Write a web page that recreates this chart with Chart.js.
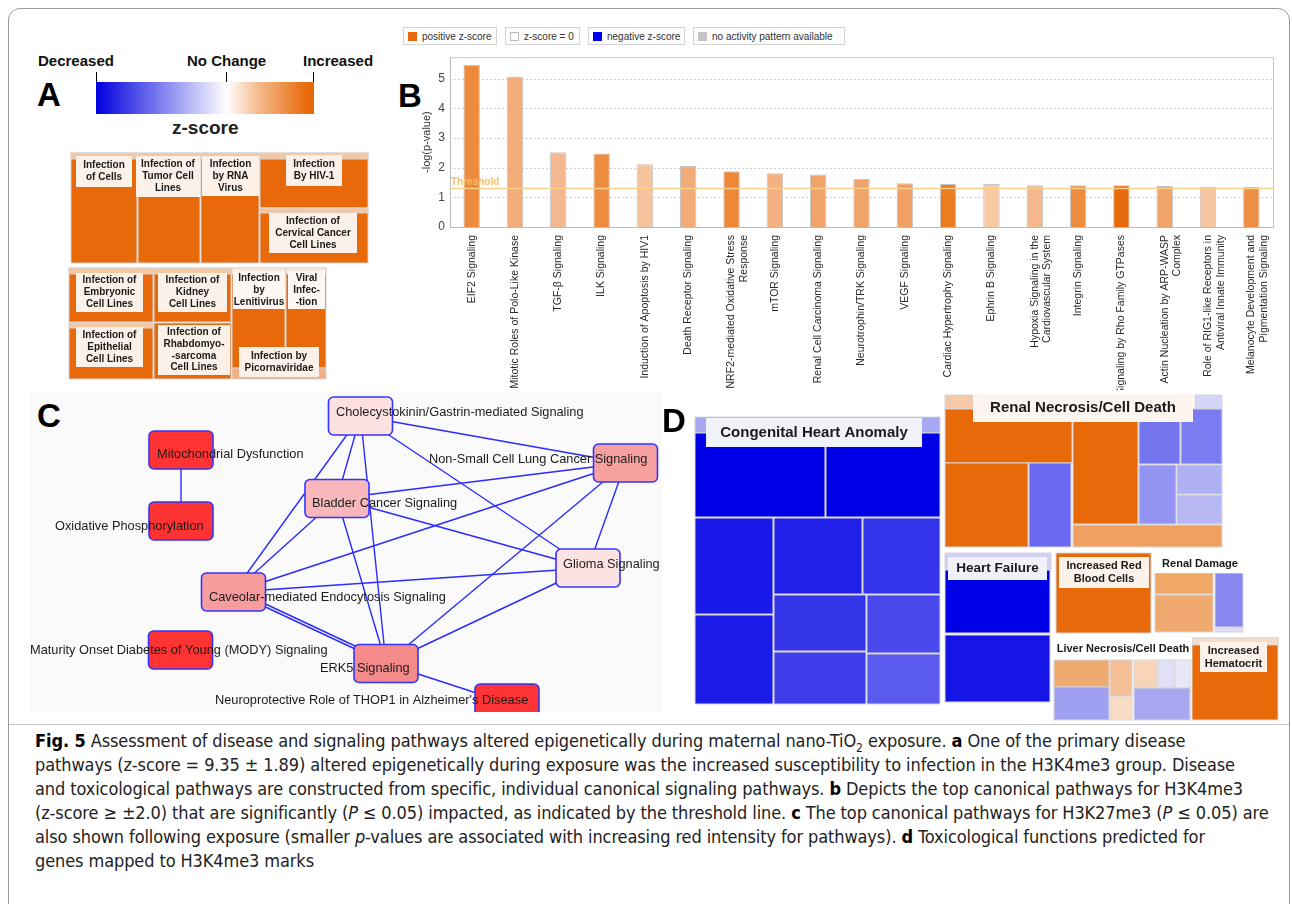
<!DOCTYPE html>
<html lang="en">
<head>
<meta charset="UTF-8">
<title>Fig. 5</title>
<script src="https://cdn.jsdelivr.net/npm/chart.js"></script>
<style>
  body { margin:0; width:1292px; height:904px; background:#fff; position:relative; overflow:hidden;
         font-family:'Liberation Sans', Arial, sans-serif; }
  .abs { position:absolute; }
  .frame { left:8px; top:8px; width:1280px; height:910px; border:1px solid #9a9a9a; border-radius:12px; }
  .sep { left:9px; top:724px; width:1280px; height:1px; background:#c4c4c4; }
  .letter { font-weight:bold; font-size:33px; color:#000; line-height:1; }
  .scale-txt { font-weight:bold; font-size:15px; color:#111; line-height:1; }
  .lg { top:27px; height:18px; border:1px solid #d4d4d4; background:#fdfdfd; font-size:10px; color:#333;
        line-height:18px; white-space:nowrap; padding-left:4px; box-sizing:border-box; }
  .lg i { display:inline-block; width:9px; height:9px; margin-right:5px; vertical-align:-1px; }
  .caption { left:35px; top:729px; font-family:'Liberation Sans Narrow','DejaVu Sans Condensed',sans-serif;
             font-size:18px; line-height:24px; color:#222; white-space:nowrap; letter-spacing:-0.1px; }
  .caption b { color:#000; }
</style>
</head>
<body>
<div class="abs frame"></div>
<div class="abs sep"></div>

<!-- panel A colour scale -->
<div class="abs letter" style="left:37px;top:78px;">A</div>
<div class="abs scale-txt" style="left:38px;top:53px;">Decreased</div>
<div class="abs scale-txt" style="left:187px;top:53px;">No Change</div>
<div class="abs scale-txt" style="left:303px;top:53px;">Increased</div>
<div class="abs" style="left:96px;top:82px;width:218px;height:32px;
     background:linear-gradient(to right,#0000dd 0%,#8080f0 30%,#ffffff 60%,#f4b98a 75%,#e8690a 97%);"></div>
<div class="abs" style="left:96px;top:72px;width:1px;height:10px;background:#000;"></div>
<div class="abs" style="left:226px;top:72px;width:1px;height:10px;background:#000;"></div>
<div class="abs" style="left:313px;top:72px;width:1px;height:10px;background:#000;"></div>
<div class="abs" style="left:172px;top:117px;font-weight:bold;font-size:19px;color:#222;">z-score</div>
<div class="abs" style="left:65px;top:150px;width:305px;height:232px;"><canvas id="treeA"></canvas></div>

<!-- panel B -->
<div class="abs letter" style="left:398px;top:79px;">B</div>
<div class="abs lg" style="left:403px;width:94px;"><i style="background:#e8690a"></i>positive z-score</div>
<div class="abs lg" style="left:505px;width:75px;"><i style="background:#fff;border:1px solid #bbb;width:7px;height:7px"></i>z-score = 0</div>
<div class="abs lg" style="left:588px;width:97px;"><i style="background:#0000ee"></i>negative z-score</div>
<div class="abs lg" style="left:693px;width:152px;"><i style="background:#c4c4c4"></i>no activity pattern available</div>
<div class="abs" style="left:420px;top:45px;width:865px;height:345px;"><canvas id="barB"></canvas></div>

<!-- panel C -->
<div class="abs" style="left:30px;top:392px;width:632px;height:320px;background:#fafafa;"></div>
<div class="abs letter" style="left:37px;top:399px;">C</div>
<div class="abs" style="left:30px;top:390px;width:640px;height:322px;"><canvas id="netC"></canvas></div>

<!-- panel D -->
<div class="abs letter" style="left:662px;top:404px;">D</div>
<div class="abs" style="left:690px;top:388px;width:592px;height:336px;"><canvas id="treeD"></canvas></div>

<div class="abs caption">
<b>Fig. 5</b> Assessment of disease and signaling pathways altered epigenetically during maternal nano-TiO<sub style="font-size:12px;line-height:0">2</sub> exposure. <b>a</b> One of the primary disease<br>
pathways (z-score = 9.35 ± 1.89) altered epigenetically during exposure was the increased susceptibility to infection in the H3K4me3 group. Disease<br>
and toxicological pathways are constructed from specific, individual canonical signaling pathways. <b>b</b> Depicts the top canonical pathways for H3K4me3<br>
(z-score ≥ ±2.0) that are significantly (<i>P</i> ≤ 0.05) impacted, as indicated by the threshold line. <b>c</b> The top canonical pathways for H3K27me3 (<i>P</i> ≤ 0.05) are<br>
also shown following exposure (smaller <i>p</i>-values are associated with increasing red intensity for pathways). <b>d</b> Toxicological functions predicted for<br>
genes mapped to H3K4me3 marks
</div>

<script>
  // ---- B: canonical pathways ----
  var pathways = [
    "EIF2 Signaling", "Mitotic Roles of Polo-Like Kinase", "TGF-β Signaling", "ILK Signaling",
    "Induction of Apoptosis by HIV1", "Death Receptor Signaling", ["NRF2-mediated Oxidative Stress", "Response"],
    "mTOR Signaling", "Renal Cell Carcinoma Signaling", "Neurotrophin/TRK Signaling", "VEGF Signaling",
    "Cardiac Hypertrophy Signaling", "Ephrin B Signaling", ["Hypoxia Signaling in the", "Cardiovascular System"],
    "Integrin Signaling", "Signaling by Rho Family GTPases", ["Actin Nucleation by ARP-WASP", "Complex"],
    ["Role of RIG1-like Receptors in", "Antiviral Innate Immunity"], ["Melanocyte Development and", "Pigmentation Signaling"]
  ];
  var logP = [5.47, 5.08, 2.52, 2.48, 2.12, 2.06, 1.88, 1.81, 1.77, 1.63, 1.48, 1.45, 1.45, 1.41, 1.41, 1.41, 1.38, 1.35, 1.35];
  var zColors = ["#ee8a3c", "#f2ad78", "#f4b890", "#ee8c40", "#f6c49c", "#f2ac78", "#ed8838", "#f3b080", "#f1a46a",
                 "#f1a46a", "#f0a062", "#ec7c22", "#f8caa4", "#f4b88c", "#ee8c40", "#e8690a", "#f0a468", "#f6c49e", "#ee8e44"];
  var yTicks = [0, 1, 2, 3, 4, 5];
  var threshold = 1.3;
  var yMax = 5.73;

  var thresholdLine = {
    id: "thresholdLine",
    beforeDatasetsDraw: function (chart) {
      // dotted horizontal grid
      var ctx = chart.ctx, a = chart.chartArea, s = chart.scales.y;
      ctx.save(); ctx.strokeStyle = "#d0d0d0"; ctx.setLineDash([2, 2]);
      yTicks.slice(1).forEach(function (v) {
        var yy = Math.round(s.getPixelForValue(v)) + 0.5;
        ctx.beginPath(); ctx.moveTo(a.left, yy); ctx.lineTo(a.right, yy); ctx.stroke();
      });
      ctx.restore();
    },
    afterDatasetsDraw: function (chart) {
      var ctx = chart.ctx, a = chart.chartArea;
      var yy = chart.scales.y.getPixelForValue(threshold);
      ctx.save();
      ctx.strokeStyle = "#fbcf8c";
      ctx.lineWidth = 1.5;
      ctx.beginPath(); ctx.moveTo(a.left, yy); ctx.lineTo(a.right, yy); ctx.stroke();
      ctx.fillStyle = "#f8c068";
      ctx.font = "bold 10px 'Liberation Sans'";
      ctx.textBaseline = "bottom";
      ctx.fillText("Threshold", a.left + 1, yy - 1);
      // frame top / right
      ctx.strokeStyle = "#c4c4c4"; ctx.lineWidth = 1;
      ctx.beginPath(); ctx.moveTo(a.left, a.top + 0.5); ctx.lineTo(a.right + 0.5, a.top + 0.5); ctx.lineTo(a.right + 0.5, a.bottom); ctx.stroke();
      ctx.restore();
    }
  };

  new Chart(document.getElementById("barB"), {
    type: "bar",
    data: {
      labels: pathways,
      datasets: [{
        data: logP,
        backgroundColor: zColors,
        borderColor: "#c6c6c6",
        borderWidth: 1,
        barPercentage: 0.38,
        categoryPercentage: 1
      }]
    },
    options: {
      responsive: true,
      maintainAspectRatio: false,
      animation: false,
      layout: { padding: { top: 10, right: 12 } },
      plugins: { legend: { display: false }, tooltip: { enabled: false } },
      scales: {
        x: {
          grid: { display: false },
          border: { color: "#bbb" },
          afterFit: function (s) { s.height = 163; },
          ticks: { autoSkip: false, maxRotation: 90, minRotation: 90, padding: 0, color: "#2a2a2a",
                   font: { family: "'Liberation Sans'", size: 10.5 } }
        },
        y: {
          min: 0, max: yMax,
          afterFit: function (s) { s.width = 30; },
          afterBuildTicks: function (s) { s.ticks = yTicks.map(function (v) { return { value: v }; }); },
          border: { color: "#bbb" },
          grid: { display: false, drawTicks: false },
          ticks: { padding: 5, color: "#444", font: { family: "'Liberation Sans'", size: 12 } },
          title: { display: true, text: "-log(p-value)", color: "#333", padding: 0,
                   font: { family: "'Liberation Sans'", size: 11 } }
        }
      }
    },
    plugins: [thresholdLine]
  });

  // ---- helpers for the treemaps ----
  function cellChart(id, w, h, cells, labels, boxColor) {
    new Chart(document.getElementById(id), {
      type: "scatter",
      data: { datasets: [{ data: [] }] },
      options: {
        responsive: true, maintainAspectRatio: false, animation: false,
        layout: { padding: 0 },
        plugins: { legend: { display: false }, tooltip: { enabled: false } },
        scales: {
          x: { type: "linear", min: 0, max: w, display: false },
          y: { type: "linear", min: 0, max: h, reverse: true, display: false }
        }
      },
      plugins: [{
        id: "cells",
        afterDraw: function (chart) {
          var ctx = chart.ctx, sx = chart.scales.x, sy = chart.scales.y;
          ctx.save();
          cells.forEach(function (c) {
            var x0 = sx.getPixelForValue(c[0]), y0 = sy.getPixelForValue(c[1]);
            var x1 = sx.getPixelForValue(c[2]), y1 = sy.getPixelForValue(c[3]);
            ctx.fillStyle = c[4];
            ctx.fillRect(x0, y0, x1 - x0, y1 - y0);
            ctx.strokeStyle = "#d6d6d6"; ctx.lineWidth = 1;
            ctx.strokeRect(x0, y0, x1 - x0, y1 - y0);
          });
          labels.forEach(function (l) {
            var x0 = sx.getPixelForValue(l[0]), y0 = sy.getPixelForValue(l[1]);
            var x1 = sx.getPixelForValue(l[2]), y1 = sy.getPixelForValue(l[3]);
            ctx.fillStyle = l[6] || boxColor;
            ctx.fillRect(x0, y0, x1 - x0, y1 - y0);
            ctx.fillStyle = "#1a1a1a";
            ctx.font = "bold " + l[5] + "px 'Liberation Sans'";
            ctx.textAlign = "center"; ctx.textBaseline = "middle";
            var lh = l[5] * 1.18, n = l[4].length;
            var cy = (y0 + y1) / 2 - (n - 1) * lh / 2;
            l[4].forEach(function (t, i) { ctx.fillText(t, (x0 + x1) / 2, cy + i * lh); });
          });
          ctx.restore();
        }
      }]
    });
  }

  // ---- A: infection treemap ----
  var orange = "#e8690a", peach = "#f6c6a2";
  var cellsA = [
    [6, 3, 72, 113, orange], [73, 3, 135, 113, orange], [136, 3, 194, 113, orange],
    [195, 3, 303, 58, orange], [195, 58, 303, 113, orange],
    [6, 3, 72, 9, peach], [73, 3, 135, 9, peach], [136, 3, 194, 9, peach], [195, 3, 303, 9, peach], [195, 58, 303, 63, peach],
    [4, 118, 88, 172, orange], [4, 173, 88, 229, orange], [89, 118, 166, 172, orange], [89, 173, 166, 229, orange],
    [167, 118, 220, 218, orange], [221, 118, 261, 218, orange], [167, 218, 261, 229, "#f4b080"],
    [4, 118, 88, 124, peach], [4, 173, 88, 178, peach], [89, 118, 166, 124, peach], [167, 118, 220, 124, "#fbe8dc"], [221, 118, 261, 124, "#fbe8dc"]
  ];
  var labelsA = [
    [11, 6, 67, 37, ["Infection", "of Cells"], 10],
    [71, 6, 135, 47, ["Infection of", "Tumor Cell", "Lines"], 10],
    [137, 6, 194, 46, ["Infection", "by RNA", "Virus"], 10],
    [221, 5, 277, 36, ["Infection", "By HIV-1"], 10],
    [204, 63, 292, 103, ["Infection of", "Cervical Cancer", "Cell Lines"], 10],
    [11, 123, 78, 162, ["Infection of", "Embryonic", "Cell Lines"], 10],
    [11, 177, 78, 217, ["Infection of", "Epithelial", "Cell Lines"], 10],
    [93, 123, 162, 162, ["Infection of", "Kidney", "Cell Lines"], 10],
    [93, 175, 165, 225, ["Infection of", "Rhabdomyo-", "-sarcoma", "Cell Lines"], 10],
    [168, 121, 220, 159, ["Infection", "by", "Lenitivirus"], 10, "#fdf6f1"],
    [223, 121, 260, 159, ["Viral", "Infec-", "-tion"], 10, "#fdf6f1"],
    [174, 197, 254, 227, ["Infection by", "Picornaviridae"], 10]
  ];
  cellChart("treeA", 305, 232, cellsA, labelsA, "#fcf1e8");

  // ---- D: toxicological functions treemap ----
  var cellsD = [
    // Congenital Heart Anomaly
    [5, 29, 250, 45, "#a8a8f2"],
    [5, 45, 135, 129, "#0000e6"], [136, 45, 250, 129, "#0000e6"],
    [5, 130, 83, 226, "#1a1ae8"], [84, 130, 172, 206, "#2020e8"], [173, 130, 250, 206, "#3333ea"],
    [5, 227, 83, 316, "#1c1ce8"], [84, 207, 176, 263, "#3535ea"], [177, 207, 250, 265, "#4848ec"],
    [84, 264, 176, 316, "#3d3dea"], [177, 266, 250, 316, "#5a5aee"],
    // Renal Necrosis/Cell Death
    [255, 7, 283, 21, "#f5c8a8"], [505, 7, 532, 21, "#d4d4f6"],
    [255, 21, 382, 75, orange], [255, 75, 338, 159, orange], [339, 75, 381, 159, "#6a6af0"],
    [383, 21, 448, 136, orange], [449, 21, 490, 76, "#7575f0"], [491, 21, 532, 76, "#7b7bf2"],
    [449, 77, 486, 136, "#9494f2"], [487, 77, 532, 106, "#b0b0f4"], [487, 107, 532, 136, "#b8b8f5"],
    [383, 137, 532, 159, "#f0a060"],
    // Heart Failure
    [255, 165, 361, 182, "#d0d0f6"], [255, 182, 360, 245, "#0000e6"], [255, 247, 360, 314, "#1515e6"],
    // Increased Red Blood Cells
    [366, 165, 461, 245, orange],
    // Renal Damage
    [465, 185, 523, 206, "#f0a868"], [465, 207, 523, 244, "#f0aa70"], [525, 185, 553, 239, "#8888f0"], [525, 240, 553, 244, "#e0e0f8"],
    // Liver Necrosis/Cell Death
    [364, 272, 419, 299, "#f0aa70"], [364, 299, 419, 332, "#a0a0f0"], [420, 272, 442, 308, "#f5c098"],
    [420, 309, 442, 332, "#f8dcc4"], [444, 272, 467, 300, "#f8d4b8"], [468, 272, 484, 300, "#e0e0f8"],
    [485, 272, 500, 300, "#e8e8fa"], [444, 300, 500, 332, "#a8a8f0"],
    // Increased Hematocrit
    [502, 250, 588, 332, orange], [502, 250, 588, 257, "#f7dccb"]
  ];
  var labelsD = [
    [16, 30, 232, 59, ["Congenital Heart Anomaly"], 15, "#f1f1fa"],
    [283, 6, 503, 34, ["Renal Necrosis/Cell Death"], 15, "#fbf4ef"],
    [258, 169, 357, 192, ["Heart Failure"], 13.5, "#f1f1fa"],
    [369, 169, 459, 200, ["Increased Red", "Blood Cells"], 11, "#fcf2ea"],
    [465, 167, 555, 185, ["Renal Damage"], 11, "#ffffff"],
    [364, 250, 502, 271, ["Liver Necrosis/Cell Death"], 11, "#ffffff"],
    [510, 254, 577, 284, ["Increased", "Hematocrit"], 11, "#fcf2ea"]
  ];
  cellChart("treeD", 592, 336, cellsD, labelsD, "#ffffff");

  // ---- C: pathway network ----
  var nodeNames = ["Cholecystokinin/Gastrin-mediated Signaling", "Mitochondrial Dysfunction", "Oxidative Phosphorylation",
                   "Non-Small Cell Lung Cancer Signaling", "Bladder Cancer Signaling", "Glioma Signaling",
                   "Caveolar-mediated Endocytosis Signaling", "Maturity Onset Diabetes of Young (MODY) Signaling",
                   "ERK5 Signaling", "Neuroprotective Role of THOP1 in Alzheimer's Disease"];
  var nodeX = [330.5, 151, 151, 595.5, 307, 558, 203.5, 150.5, 356, 477];
  var nodeY = [26, 60, 131, 73, 108.5, 178, 202, 260, 273.5, 313];
  var labelX = [306, 127, 25, 399, 282, 533, 179, 0, 290, 185];
  var labelY = [22, 64, 136, 69, 113, 174, 207, 260, 278, 310];
  var nodeColor = ["#fde0e0", "#ff3333", "#ff3333", "#f7a0a0", "#f8b8bb", "#fde2e2", "#f79c9c", "#ff3333", "#f58a8a", "#ff3535"];
  var edges = [[1, 2], [0, 6], [0, 4], [0, 8], [0, 3], [0, 5], [4, 3], [4, 5], [4, 6], [4, 8],
               [3, 6], [3, 8], [3, 5], [5, 6], [5, 8], [6, 8], [6, 8], [8, 9]];

  var edgeSets = edges.map(function (e, i) {
    var dup = (i > 0 && edges[i - 1][0] === e[0] && edges[i - 1][1] === e[1]) ? 3 : 0;
    return {
      type: "scatter", showLine: true, pointRadius: 0, borderColor: "#2b2bff", borderWidth: 1.4,
      data: [{ x: nodeX[e[0]], y: nodeY[e[0]] - dup }, { x: nodeX[e[1]], y: nodeY[e[1]] - dup }]
    };
  });

  new Chart(document.getElementById("netC"), {
    type: "scatter",
    data: { datasets: edgeSets },
    options: {
      responsive: true, maintainAspectRatio: false, animation: false,
      layout: { padding: 0 },
      plugins: { legend: { display: false }, tooltip: { enabled: false } },
      scales: {
        x: { type: "linear", min: 0, max: 640, display: false },
        y: { type: "linear", min: 0, max: 322, reverse: true, display: false }
      }
    },
    plugins: [{
      id: "nodes",
      afterDatasetsDraw: function (chart) {
        var ctx = chart.ctx, sx = chart.scales.x, sy = chart.scales.y;
        ctx.save();
        nodeNames.forEach(function (n, i) {
          var cx = sx.getPixelForValue(nodeX[i]), cy = sy.getPixelForValue(nodeY[i]);
          ctx.beginPath();
          ctx.roundRect(cx - 32, cy - 19, 64, 38, 5);
          ctx.fillStyle = nodeColor[i]; ctx.fill();
          ctx.strokeStyle = "#3434ff"; ctx.lineWidth = 1.6; ctx.stroke();
        });
        ctx.fillStyle = "#1c1c1c";
        ctx.font = "12.8px 'Liberation Sans'";
        ctx.textBaseline = "middle"; ctx.textAlign = "left";
        nodeNames.forEach(function (n, i) {
          ctx.fillText(n, sx.getPixelForValue(labelX[i]), sy.getPixelForValue(labelY[i]));
        });
        ctx.restore();
      }
    }]
  });
</script>
</body>
</html>
